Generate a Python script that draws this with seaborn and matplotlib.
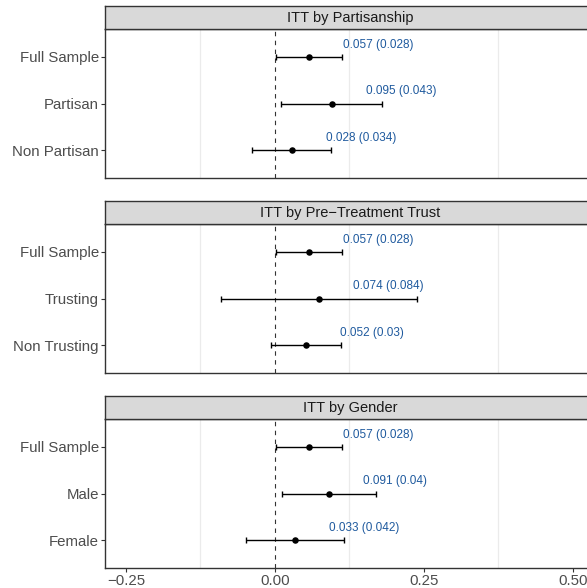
import numpy as np
import pandas as pd
import seaborn as sns
import matplotlib.pyplot as plt

sns.set_theme(style="white")
plt.rcParams['font.family'] = ['Liberation Sans', 'DejaVu Sans']

# data: point estimate and standard error for each subgroup
panels = ["ITT by Partisanship", "ITT by Pre\u2212Treatment Trust", "ITT by Gender"]
groups = [
    ["Full Sample", "Partisan", "Non Partisan"],
    ["Full Sample", "Trusting", "Non Trusting"],
    ["Full Sample", "Male", "Female"],
]
estimates = [
    [0.057, 0.095, 0.028],
    [0.057, 0.074, 0.052],
    [0.057, 0.091, 0.033],
]
std_errors = [
    [0.028, 0.043, 0.034],
    [0.028, 0.084, 0.030],
    [0.028, 0.040, 0.042],
]
x_ticks = [-0.25, 0.0, 0.25, 0.50]
x_tick_labels = ["\u22120.25", "0.00", "0.25", "0.50"]

LABEL_BLUE = '#1F5A9E'
EDGE = '#333333'
TICK_TXT = '#4D4D4D'

W, H = 587, 588
fig = plt.figure(figsize=(W / 100, H / 100), dpi=100)
# panel runs a little past the right edge of the picture, as in the reference
left_px, right_px = 105, 595
x_min = -0.2852
x_max = x_min + (right_px - left_px) / 596.0

for i, title in enumerate(panels):
    strip_top = 6 + 195 * i
    strip_bot = strip_top + 23
    ax_bot = strip_top + 172

    ax = fig.add_axes([left_px / W, 1 - ax_bot / H,
                       (right_px - left_px) / W, (ax_bot - strip_bot) / H])
    sax = fig.add_axes([left_px / W, 1 - strip_bot / H,
                        (right_px - left_px) / W, 23 / H])

    df = pd.DataFrame({
        'group': groups[i],
        'est': estimates[i],
        'se': std_errors[i],
    })
    df['y'] = np.arange(len(df))

    # minor grid lines
    for gx in [-0.125, 0.125, 0.375]:
        ax.axvline(gx, color='#EBEBEB', lw=0.9, zorder=0)
    ax.axvline(0, color=EDGE, lw=0.8, ls=(0, (4, 4)), zorder=1)

    ax.errorbar(df['est'], df['y'], xerr=1.96 * df['se'], fmt='none',
                ecolor='black', elinewidth=1.0, capsize=2.2, capthick=1.0, zorder=2)
    sns.scatterplot(data=df, x='est', y='y', ax=ax, color='black', s=22,
                    edgecolor='black', linewidth=0, zorder=3, legend=False)

    for _, r in df.iterrows():
        ax.text(r['est'] + 0.057, r['y'] - 0.26, f"{r['est']:g} ({r['se']:g})",
                color=LABEL_BLUE, fontsize=8.5, ha='left', va='center')

    ax.set_xlim(x_min, x_max)
    ax.set_ylim(2.6, -0.6)
    ax.set_yticks(df['y'])
    ax.set_yticklabels(df['group'])
    ax.set_xlabel('')
    ax.set_ylabel('')
    ax.tick_params(axis='y', left=True, length=3, width=0.8, color=EDGE,
                   labelsize=10.8, labelcolor=TICK_TXT, pad=1.5)
    if i == len(panels) - 1:
        ax.set_xticks(x_ticks)
        ax.set_xticklabels(x_tick_labels)
        ax.tick_params(axis='x', bottom=True, length=3, width=0.8, color=EDGE,
                       labelsize=10.8, labelcolor=TICK_TXT, pad=1.5)
    else:
        ax.set_xticks([])
    for sp in ax.spines.values():
        sp.set_visible(True)
        sp.set_color(EDGE)
        sp.set_linewidth(1.0)

    # facet strip
    sax.set_facecolor('#D9D9D9')
    sax.set_xticks([])
    sax.set_yticks([])
    for sp in sax.spines.values():
        sp.set_visible(True)
        sp.set_color(EDGE)
        sp.set_linewidth(1.0)
    sax.text(0.5, 0.48, title, transform=sax.transAxes, ha='center',
             va='center', fontsize=10.5, color='#1A1A1A')

fig.savefig('out.png', dpi=100)
